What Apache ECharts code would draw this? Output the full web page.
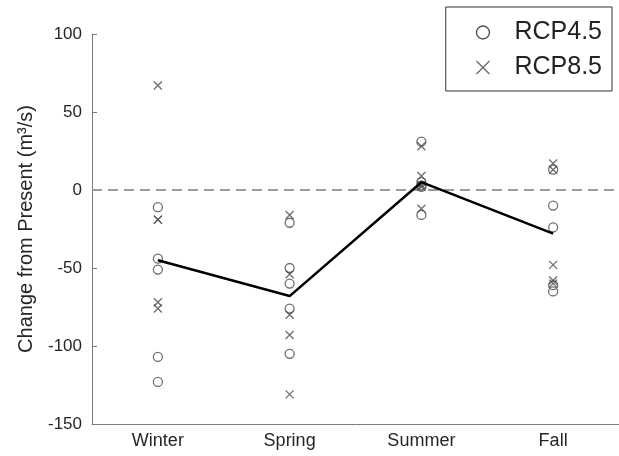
<!DOCTYPE html>
<html>
<head>
<meta charset="utf-8">
<script src="https://cdn.jsdelivr.net/npm/echarts@6/dist/echarts.min.js"></script>
<style>
  html, body { margin: 0; padding: 0; background: #fff; }
  #chart { width: 619px; height: 456px; }
</style>
</head>
<body>
<div id="chart"></div>
<script>
// Seasonal change in streamflow relative to the present period
const categories = ['Winter', 'Spring', 'Summer', 'Fall'];

// Individual model projections per season (m^3/s)
const rcp45Winter = [-11, -44, -51, -107, -123];
const rcp45Spring = [-21, -50, -60, -76, -105];
const rcp45Summer = [31, 5, 3, 2, -16];
const rcp45Fall   = [13, -10, -24, -61, -65];

const rcp85Winter = [67, -19, -19, -72, -76];
const rcp85Spring = [-16, -54, -80, -93, -131];
const rcp85Summer = [28, 9, 3, 2, -12];
const rcp85Fall   = [17, 13, -48, -58, -60];

// Ensemble mean per season
const meanChange = [-45, -68, 5, -28];

// No-change reference level
const baseline = 0;

const yTicks = { min: -150, max: 100, step: 50 };

function toPoints(groups) {
  const pts = [];
  groups.forEach((vals, i) => vals.forEach(v => pts.push([i, v])));
  return pts;
}

const FONT = "'Liberation Sans', Arial, Helvetica, sans-serif";
const crossPath = 'path://M0,0L10,10M10,0L0,10';

const chart = echarts.init(document.getElementById('chart'), null, { renderer: 'canvas' });

chart.setOption({
  animation: false,
  backgroundColor: '#ffffff',
  textStyle: { fontFamily: FONT },
  grid: { left: 92, top: 34, bottom: 32, right: -6 },
  legend: {
    orient: 'vertical',
    right: 7,
    top: 7,
    padding: [13, 10, 11, 30],
    itemGap: 10,
    itemWidth: 13,
    itemHeight: 13,
    borderColor: '#333',
    borderWidth: 1,
    backgroundColor: '#fff',
    textStyle: { fontSize: 25, color: '#222', fontFamily: FONT, padding: [0, 0, 0, 20] },
    data: [
      { name: 'RCP4.5', icon: 'circle', itemStyle: { color: 'rgba(0,0,0,0)', borderColor: '#555', borderWidth: 1.4 } },
      { name: 'RCP8.5', icon: crossPath, itemStyle: { color: 'rgba(0,0,0,0)', borderColor: '#444', borderWidth: 1.3 } }
    ]
  },
  xAxis: [
    {
      type: 'category',
      data: categories,
      boundaryGap: true,
      axisLine: { onZero: false, lineStyle: { color: '#7a7a7a', width: 1 } },
      axisTick: { inside: true, alignWithLabel: true, length: 5, lineStyle: { color: '#7a7a7a' } },
      axisLabel: { color: '#262626', fontSize: 18, margin: 8, fontFamily: FONT },
      splitLine: { show: false }
    },
    {
      // hidden continuous axis spanning the same width, used for the reference line
      type: 'value',
      min: 0.5,
      max: 4.5,
      show: false,
      axisLine: { onZero: false }
    }
  ],
  yAxis: {
    type: 'value',
    min: yTicks.min,
    max: yTicks.max,
    interval: yTicks.step,
    name: 'Change from Present (m³/s)',
    nameLocation: 'middle',
    nameGap: 56,
    nameTextStyle: { fontSize: 20, color: '#262626', fontFamily: FONT },
    axisLine: { show: true, onZero: false, lineStyle: { color: '#7a7a7a', width: 1 } },
    axisTick: { show: true, inside: true, length: 5, lineStyle: { color: '#7a7a7a' } },
    axisLabel: { color: '#262626', fontSize: 17, margin: 10, fontFamily: FONT },
    splitLine: { show: false }
  },
  series: [
    {
      name: 'zero',
      type: 'line',
      xAxisIndex: 1,
      data: [[0.5, baseline], [4.5, baseline]],
      symbol: 'none',
      silent: true,
      lineStyle: { color: '#9a9a9a', type: [10, 6], width: 2 },
      z: 1
    },
    {
      name: 'RCP4.5',
      type: 'scatter',
      symbol: 'circle',
      symbolSize: 9,
      itemStyle: { color: 'rgba(0,0,0,0)', borderColor: '#6e6e6e', borderWidth: 1.3, opacity: 1 },
      data: toPoints([rcp45Winter, rcp45Spring, rcp45Summer, rcp45Fall]),
      z: 3
    },
    {
      name: 'RCP8.5',
      type: 'scatter',
      symbol: crossPath,
      symbolSize: 8,
      itemStyle: { color: 'rgba(0,0,0,0)', borderColor: '#4a4a4a', borderWidth: 1.3 },
      data: toPoints([rcp85Winter, rcp85Spring, rcp85Summer, rcp85Fall]),
      z: 3
    },
    {
      name: 'mean',
      type: 'line',
      data: meanChange,
      symbol: 'none',
      lineStyle: { color: '#000', width: 2.5 },
      z: 4
    }
  ]
});
</script>
</body>
</html>
